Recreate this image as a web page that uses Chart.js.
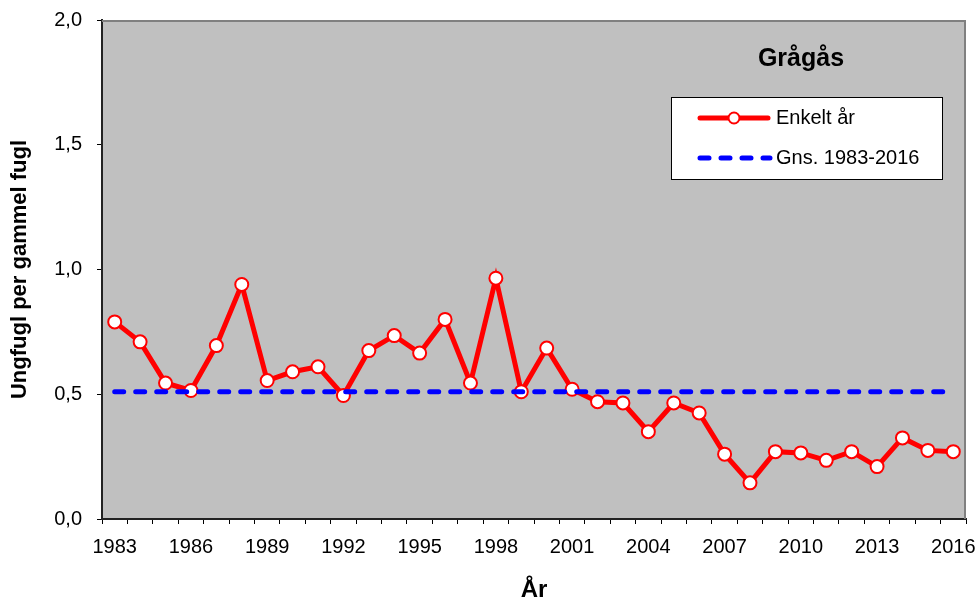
<!DOCTYPE html>
<html>
<head>
<meta charset="utf-8">
<script src="https://cdn.jsdelivr.net/npm/chart.js@4.4.0/dist/chart.umd.min.js"></script>
<style>
html, body { margin: 0; padding: 0; background: #fff; }
</style>
</head>
<body>
<canvas id="chart" width="977" height="602"></canvas>
<script>
// data
var years = ['1983', '1984', '1985', '1986', '1987', '1988', '1989', '1990', '1991', '1992',
    '1993', '1994', '1995', '1996', '1997', '1998', '1999', '2000', '2001', '2002',
    '2003', '2004', '2005', '2006', '2007', '2008', '2009', '2010', '2011', '2012',
    '2013', '2014', '2015', '2016'];
var singleYear = [0.79, 0.71, 0.545, 0.515, 0.695, 0.94, 0.555, 0.59, 0.61, 0.495,
    0.675, 0.735, 0.665, 0.80, 0.545, 0.965, 0.51, 0.685, 0.52, 0.47,
    0.465, 0.35, 0.465, 0.425, 0.26, 0.145, 0.27, 0.265, 0.235, 0.27,
    0.21, 0.325, 0.275, 0.27];
var avgYears = ['1983', '2016'];
var avgValues = [0.51, 0.51];
var yTicks = [0, 0.5, 1.0, 1.5, 2.0];

var fontName = '"Liberation Sans", Arial, sans-serif';

var plotDecor = {
    id: 'plotDecor',
    beforeDraw: function(chart) {
        var a = chart.chartArea, ctx = chart.ctx;
        ctx.save();
        ctx.fillStyle = '#c0c0c0';
        ctx.fillRect(a.left, a.top, a.right - a.left, a.bottom - a.top);
        ctx.restore();
    },
    afterDraw: function(chart) {
        var a = chart.chartArea, ctx = chart.ctx;
        ctx.save();
        // grey frame top and right
        ctx.strokeStyle = '#808080';
        ctx.lineWidth = 2;
        ctx.beginPath();
        ctx.moveTo(a.left, a.top + 1);
        ctx.lineTo(a.right - 1, a.top + 1);
        ctx.lineTo(a.right - 1, a.bottom);
        ctx.stroke();

        // title
        ctx.fillStyle = '#000';
        ctx.font = 'bold 25px ' + fontName;
        ctx.textAlign = 'center';
        ctx.textBaseline = 'middle';
        ctx.fillText('Grågås', 801, 59);

        // legend box
        ctx.fillStyle = '#fff';
        ctx.fillRect(671, 97, 272, 83);
        ctx.strokeStyle = '#000';
        ctx.lineWidth = 1;
        ctx.strokeRect(671.5, 97.5, 271, 82);

        ctx.lineCap = 'round';
        ctx.strokeStyle = '#ff0000';
        ctx.lineWidth = 5;
        ctx.beginPath();
        ctx.moveTo(700, 118);
        ctx.lineTo(768, 118);
        ctx.stroke();
        ctx.beginPath();
        ctx.arc(734, 118, 5.5, 0, Math.PI * 2);
        ctx.fillStyle = '#fff';
        ctx.fill();
        ctx.lineWidth = 2;
        ctx.stroke();

        ctx.strokeStyle = '#0000ff';
        ctx.lineWidth = 5;
        ctx.setLineDash([9, 12]);
        ctx.beginPath();
        ctx.moveTo(700, 158);
        ctx.lineTo(770, 158);
        ctx.stroke();
        ctx.setLineDash([]);

        ctx.fillStyle = '#000';
        ctx.font = '20px ' + fontName;
        ctx.textAlign = 'left';
        ctx.fillText('Enkelt år', 776, 118);
        ctx.fillText('Gns. 1983-2016', 776, 158);
        ctx.restore();
    }
};

var ctx = document.getElementById('chart').getContext('2d');
new Chart(ctx, {
    type: 'line',
    data: {
        labels: years,
        datasets: [{
            label: 'Enkelt år',
            data: singleYear,
            borderColor: '#ff0000',
            borderWidth: 5,
            pointRadius: 6.5,
            pointBorderWidth: 2,
            pointBackgroundColor: '#ffffff',
            pointBorderColor: '#ff0000',
            tension: 0,
            order: 1
        }, {
            label: 'Gns. 1983-2016',
            data: avgYears.map(function(y, i) { return { x: y, y: avgValues[i] }; }),
            borderColor: '#0000ff',
            borderWidth: 5,
            borderDash: [9, 12],
            borderCapStyle: 'round',
            pointRadius: 0,
            order: 0
        }]
    },
    options: {
        responsive: false,
        animation: false,
        layout: { padding: { top: 20, right: 11, left: 0, bottom: 0 } },
        plugins: {
            legend: { display: false },
            tooltip: { enabled: false }
        },
        scales: {
            x: {
                offset: true,
                grid: { drawOnChartArea: false, drawTicks: true, tickLength: 5, color: '#000', offset: true },
                border: { color: '#222', width: 2 },
                ticks: {
                    autoSkip: false,
                    maxRotation: 0,
                    padding: 11,
                    color: '#000',
                    font: { family: fontName, size: 20 },
                    callback: function(v, i) { return i % 3 === 0 ? years[i] : ''; }
                },
                title: {
                    display: true,
                    text: 'År',
                    color: '#000',
                    font: { family: fontName, size: 24, weight: 'bold', lineHeight: 1 },
                    padding: { top: 0, bottom: 0 }
                },
                afterFit: function(s) {
                    s.height = 83;
                    s.paddingLeft = 0;
                    s.paddingRight = 0;
                }
            },
            y: {
                min: 0,
                max: 2,
                afterBuildTicks: function(s) { s.ticks = yTicks.map(function(v) { return { value: v }; }); },
                grid: { drawOnChartArea: false, drawTicks: true, tickLength: 5, color: '#000' },
                border: { color: '#222', width: 2 },
                ticks: {
                    padding: 15,
                    color: '#000',
                    font: { family: fontName, size: 20 },
                    callback: function(v) { return v.toFixed(1).replace('.', ','); }
                },
                title: {
                    display: true,
                    text: 'Ungfugl per gammel fugl',
                    color: '#000',
                    font: { family: fontName, size: 22, weight: 'bold' },
                    padding: { top: 7, bottom: 0 }
                },
                afterFit: function(s) {
                    s.width = 102;
                    s.paddingTop = 0;
                    s.paddingBottom = 0;
                }
            }
        }
    },
    plugins: [plotDecor]
});
</script>
</body>
</html>
